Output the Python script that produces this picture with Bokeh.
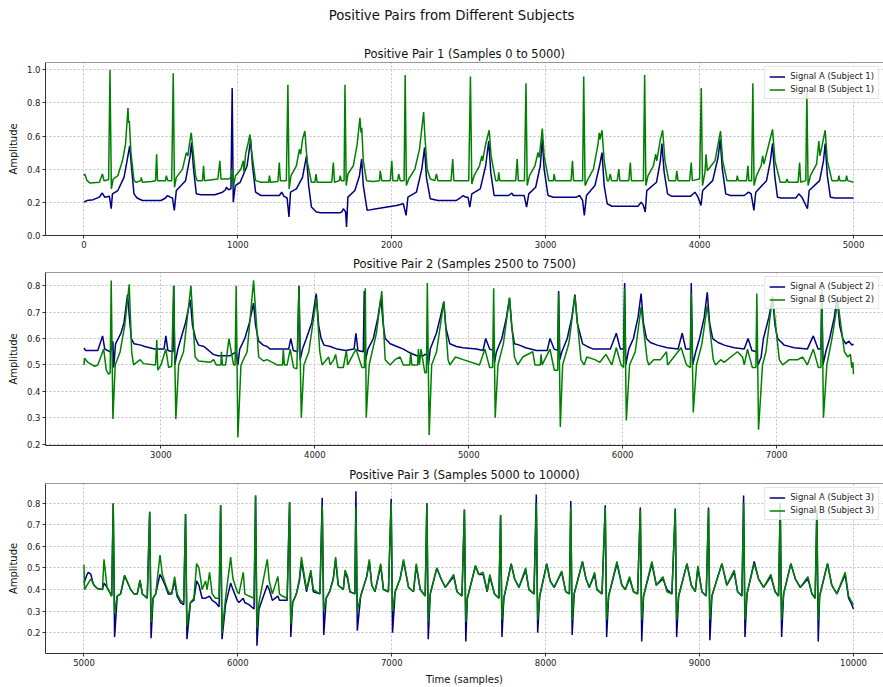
from bokeh.plotting import figure
from bokeh.layouts import column
from bokeh.models import Range1d, Legend, LegendItem, FixedTicker, Span, Div
from bokeh.embed import file_html
from bokeh.resources import INLINE

FONT = "DejaVu Sans"
NAVY = "#000080"
GREEN = "#008000"

main_title = "Positive Pairs from Different Subjects"
panel_titles = ["Positive Pair 1 (Samples 0 to 5000)",
                "Positive Pair 2 (Samples 2500 to 7500)",
                "Positive Pair 3 (Samples 5000 to 10000)"]
legend_a = ["Signal A (Subject 1)", "Signal A (Subject 2)", "Signal A (Subject 3)"]
legend_b = ["Signal B (Subject 1)", "Signal B (Subject 2)", "Signal B (Subject 3)"]

x_ticks_1 = [0, 1000, 2000, 3000, 4000, 5000]
x_ticks_2 = [3000, 4000, 5000, 6000, 7000]
x_ticks_3 = [5000, 6000, 7000, 8000, 9000, 10000]
y_ticks_1 = [0.0, 0.2, 0.4, 0.6, 0.8, 1.0]
y_ticks_2 = [0.2, 0.3, 0.4, 0.5, 0.6, 0.7, 0.8]
y_ticks_3 = [0.2, 0.3, 0.4, 0.5, 0.6, 0.7, 0.8]

# (sample, amplitude)
pair1_signal_a = [
    (0, 0.20), (20, 0.21), (60, 0.215), (100, 0.23), (119, 0.255), (135, 0.23), (165, 0.235), (177, 0.16),
    (185, 0.25), (220, 0.27), (260, 0.35), (280, 0.45), (297, 0.54), (310, 0.40), (325, 0.25), (345, 0.225),
    (380, 0.21), (500, 0.21), (530, 0.225), (543, 0.24), (560, 0.23), (575, 0.225), (587, 0.15), (600, 0.27),
    (660, 0.33), (690, 0.48), (699, 0.56), (712, 0.40), (730, 0.25), (760, 0.245), (850, 0.245), (900, 0.26),
    (920, 0.275), (925, 0.29), (940, 0.275), (955, 0.28), (963, 0.89), (970, 0.20), (983, 0.30), (1015, 0.32),
    (1060, 0.42), (1083, 0.58), (1095, 0.42), (1115, 0.26), (1150, 0.24), (1270, 0.24), (1285, 0.26),
    (1300, 0.235), (1320, 0.225), (1332, 0.11), (1342, 0.26), (1380, 0.28), (1420, 0.35), (1446, 0.48),
    (1460, 0.30), (1478, 0.17), (1510, 0.14), (1540, 0.135), (1660, 0.135), (1675, 0.14), (1685, 0.16),
    (1700, 0.14), (1706, 0.05), (1715, 0.23), (1760, 0.27), (1790, 0.36), (1804, 0.46), (1815, 0.30),
    (1840, 0.15), (1900, 0.16), (2030, 0.18), (2075, 0.19), (2093, 0.12), (2105, 0.23), (2160, 0.26),
    (2195, 0.40), (2213, 0.53), (2225, 0.35), (2250, 0.22), (2300, 0.21), (2420, 0.21), (2445, 0.225),
    (2463, 0.24), (2480, 0.23), (2495, 0.23), (2507, 0.17), (2520, 0.25), (2575, 0.28), (2610, 0.42),
    (2630, 0.57), (2643, 0.38), (2665, 0.24), (2760, 0.24), (2780, 0.255), (2790, 0.24), (2860, 0.24),
    (2876, 0.17), (2890, 0.25), (2935, 0.29), (2965, 0.42), (2978, 0.58), (2990, 0.40), (3015, 0.24),
    (3050, 0.23), (3200, 0.23), (3220, 0.24), (3240, 0.21), (3251, 0.12), (3265, 0.24), (3320, 0.30),
    (3350, 0.42), (3366, 0.50), (3380, 0.30), (3400, 0.19), (3430, 0.175), (3600, 0.175), (3620, 0.20),
    (3635, 0.18), (3647, 0.14), (3657, 0.27), (3720, 0.32), (3745, 0.45), (3755, 0.555), (3770, 0.38),
    (3792, 0.25), (3820, 0.235), (3940, 0.235), (3970, 0.26), (3990, 0.23), (4009, 0.18), (4020, 0.27),
    (4085, 0.33), (4120, 0.47), (4134, 0.58), (4148, 0.40), (4170, 0.25), (4200, 0.24), (4290, 0.24),
    (4318, 0.26), (4335, 0.25), (4353, 0.15), (4365, 0.26), (4435, 0.33), (4460, 0.45), (4474, 0.555),
    (4488, 0.36), (4506, 0.23), (4530, 0.225), (4625, 0.225), (4645, 0.25), (4665, 0.23), (4701, 0.16),
    (4712, 0.27), (4780, 0.33), (4805, 0.45), (4816, 0.555), (4830, 0.36), (4850, 0.23), (4880, 0.225),
    (5000, 0.225),
]

pair1_signal_b = [
    (0, 0.36), (5, 0.37), (20, 0.33), (40, 0.315), (100, 0.32), (120, 0.37), (130, 0.33), (160, 0.335),
    (169, 1.0), (178, 0.28), (190, 0.34), (220, 0.36), (250, 0.45), (270, 0.55), (286, 0.77), (290, 0.68),
    (295, 0.69), (305, 0.5), (325, 0.33), (340, 0.32), (370, 0.33), (372, 0.35), (380, 0.32), (440, 0.325),
    (465, 0.33), (472, 0.49), (478, 0.33), (530, 0.33), (535, 0.36), (545, 0.33), (570, 0.33), (580, 0.98),
    (588, 0.29), (600, 0.35), (640, 0.40), (665, 0.50), (675, 0.48), (685, 0.55), (697, 0.62), (710, 0.50),
    (725, 0.36), (736, 0.33), (770, 0.33), (777, 0.42), (783, 0.33), (870, 0.34), (883, 0.45), (890, 0.34),
    (940, 0.34), (955, 0.35), (963, 0.40), (970, 0.29), (985, 0.36), (1020, 0.40), (1035, 0.45),
    (1040, 0.38), (1050, 0.49), (1065, 0.55), (1078, 0.61), (1090, 0.50), (1115, 0.33), (1150, 0.32),
    (1200, 0.32), (1205, 0.36), (1212, 0.32), (1260, 0.325), (1269, 0.44), (1276, 0.33), (1315, 0.33),
    (1325, 0.91), (1333, 0.28), (1345, 0.36), (1380, 0.42), (1400, 0.52), (1408, 0.49), (1420, 0.58),
    (1435, 0.63), (1450, 0.45), (1478, 0.32), (1500, 0.32), (1508, 0.37), (1515, 0.32), (1610, 0.32),
    (1620, 0.44), (1628, 0.32), (1660, 0.33), (1665, 0.36), (1672, 0.33), (1690, 0.33), (1696, 0.91),
    (1704, 0.30), (1715, 0.37), (1750, 0.42), (1775, 0.55), (1793, 0.71), (1800, 0.62), (1805, 0.65),
    (1815, 0.45), (1836, 0.33), (1880, 0.325), (1920, 0.33), (1925, 0.39), (1935, 0.33), (1990, 0.33),
    (2000, 0.45), (2007, 0.33), (2038, 0.33), (2045, 0.37), (2055, 0.33), (2080, 0.33), (2087, 0.97),
    (2095, 0.30), (2110, 0.34), (2150, 0.40), (2180, 0.52), (2207, 0.745), (2215, 0.60), (2230, 0.40),
    (2250, 0.34), (2280, 0.33), (2290, 0.37), (2300, 0.33), (2385, 0.33), (2396, 0.46), (2403, 0.33),
    (2500, 0.33), (2511, 0.96), (2520, 0.31), (2535, 0.36), (2570, 0.42), (2585, 0.48), (2590, 0.45),
    (2610, 0.55), (2633, 0.635), (2645, 0.48), (2675, 0.33), (2690, 0.33), (2695, 0.38), (2702, 0.33),
    (2805, 0.33), (2815, 0.46), (2822, 0.33), (2862, 0.33), (2872, 0.92), (2880, 0.30), (2895, 0.36),
    (2930, 0.42), (2950, 0.50), (2958, 0.47), (2978, 0.645), (2990, 0.48), (3020, 0.33), (3050, 0.33),
    (3055, 0.37), (3062, 0.33), (3165, 0.33), (3174, 0.45), (3181, 0.33), (3240, 0.33), (3247, 0.96),
    (3256, 0.30), (3270, 0.33), (3310, 0.40), (3340, 0.55), (3348, 0.62), (3353, 0.58), (3366, 0.635),
    (3380, 0.45), (3400, 0.33), (3410, 0.33), (3420, 0.37), (3428, 0.33), (3465, 0.33), (3475, 0.40),
    (3482, 0.33), (3540, 0.33), (3550, 0.44), (3557, 0.33), (3635, 0.33), (3643, 0.97), (3651, 0.30),
    (3665, 0.36), (3700, 0.42), (3715, 0.49), (3722, 0.45), (3745, 0.58), (3760, 0.635), (3775, 0.45),
    (3800, 0.33), (3845, 0.33), (3852, 0.39), (3860, 0.33), (3935, 0.33), (3946, 0.44), (3953, 0.33),
    (4000, 0.34), (4011, 0.89), (4019, 0.30), (4035, 0.38), (4042, 0.49), (4050, 0.39), (4100, 0.45),
    (4120, 0.55), (4136, 0.63), (4150, 0.45), (4178, 0.33), (4240, 0.33), (4245, 0.36), (4252, 0.33),
    (4305, 0.33), (4314, 0.42), (4320, 0.33), (4338, 0.33), (4346, 0.92), (4354, 0.30), (4370, 0.36),
    (4400, 0.42), (4410, 0.48), (4418, 0.43), (4450, 0.55), (4474, 0.64), (4490, 0.45), (4524, 0.32),
    (4560, 0.32), (4568, 0.34), (4575, 0.32), (4640, 0.32), (4650, 0.44), (4657, 0.32), (4690, 0.33),
    (4697, 0.87), (4705, 0.30), (4720, 0.36), (4760, 0.43), (4775, 0.57), (4782, 0.48), (4800, 0.56),
    (4816, 0.635), (4830, 0.45), (4860, 0.33), (4900, 0.33), (4905, 0.36), (4912, 0.33), (4950, 0.33),
    (4955, 0.36), (4962, 0.33), (5000, 0.32),
]

pair2_signal_a = [
    (2500, 0.565), (2510, 0.555), (2590, 0.555), (2621, 0.61), (2635, 0.56), (2670, 0.55), (2680, 0.56),
    (2688, 0.59), (2693, 0.49), (2705, 0.58), (2740, 0.62), (2760, 0.66), (2783, 0.766), (2798, 0.66),
    (2808, 0.60), (2825, 0.58), (2870, 0.575), (2895, 0.57), (2960, 0.56), (3020, 0.56), (3032, 0.61),
    (3045, 0.555), (3078, 0.55), (3084, 0.80), (3090, 0.50), (3110, 0.56), (3130, 0.60), (3160, 0.66),
    (3191, 0.747), (3205, 0.65), (3225, 0.60), (3245, 0.575), (3280, 0.57), (3300, 0.56), (3320, 0.55),
    (3340, 0.54), (3370, 0.535), (3450, 0.535), (3475, 0.545), (3490, 0.545), (3500, 0.50), (3512, 0.56),
    (3545, 0.60), (3575, 0.66), (3602, 0.734), (3615, 0.65), (3635, 0.59), (3665, 0.575), (3690, 0.57),
    (3710, 0.56), (3830, 0.56), (3844, 0.60), (3860, 0.555), (3888, 0.55), (3897, 0.80), (3905, 0.52),
    (3920, 0.56), (3945, 0.60), (3980, 0.66), (4009, 0.77), (4025, 0.65), (4041, 0.60), (4060, 0.575),
    (4100, 0.57), (4145, 0.56), (4200, 0.555), (4255, 0.56), (4267, 0.62), (4280, 0.555), (4315, 0.55),
    (4321, 0.78), (4330, 0.52), (4345, 0.56), (4380, 0.60), (4410, 0.68), (4429, 0.753), (4445, 0.65),
    (4457, 0.60), (4490, 0.58), (4533, 0.57), (4576, 0.56), (4620, 0.545), (4662, 0.535), (4705, 0.535),
    (4715, 0.54), (4731, 0.54), (4738, 0.50), (4750, 0.56), (4790, 0.62), (4815, 0.68), (4838, 0.74),
    (4852, 0.64), (4877, 0.58), (4920, 0.57), (4963, 0.565), (5050, 0.56), (5093, 0.555), (5110, 0.60),
    (5136, 0.56), (5160, 0.555), (5168, 0.51), (5180, 0.55), (5215, 0.60), (5245, 0.68), (5265, 0.753),
    (5280, 0.64), (5297, 0.58), (5330, 0.575), (5370, 0.565), (5440, 0.555), (5510, 0.555), (5528, 0.60),
    (5555, 0.56), (5578, 0.555), (5584, 0.78), (5592, 0.52), (5605, 0.55), (5640, 0.60), (5670, 0.68),
    (5690, 0.766), (5705, 0.66), (5740, 0.58), (5770, 0.57), (5810, 0.56), (5920, 0.56), (5959, 0.62),
    (5985, 0.56), (6006, 0.56), (6013, 0.81), (6020, 0.50), (6040, 0.56), (6070, 0.60), (6100, 0.68),
    (6120, 0.77), (6135, 0.66), (6155, 0.60), (6180, 0.585), (6225, 0.575), (6290, 0.565), (6360, 0.56),
    (6387, 0.62), (6410, 0.56), (6440, 0.56), (6446, 0.81), (6455, 0.50), (6475, 0.55), (6500, 0.60),
    (6530, 0.68), (6550, 0.775), (6565, 0.66), (6585, 0.60), (6620, 0.585), (6660, 0.575), (6725, 0.565),
    (6790, 0.56), (6815, 0.60), (6840, 0.555), (6870, 0.55), (6880, 0.50), (6900, 0.53), (6915, 0.60),
    (6950, 0.68), (6974, 0.753), (6990, 0.65), (7007, 0.60), (7050, 0.575), (7115, 0.565), (7200, 0.56),
    (7239, 0.61), (7270, 0.56), (7288, 0.56), (7294, 0.77), (7302, 0.50), (7320, 0.55), (7345, 0.60),
    (7375, 0.68), (7394, 0.76), (7410, 0.65), (7430, 0.60), (7450, 0.58), (7470, 0.59), (7490, 0.575),
    (7500, 0.58),
]

pair2_signal_b = [
    (2500, 0.50), (2503, 0.525), (2525, 0.51), (2570, 0.495), (2590, 0.50), (2628, 0.56), (2645, 0.48),
    (2660, 0.465), (2670, 0.47), (2677, 0.82), (2688, 0.295), (2703, 0.50), (2735, 0.55), (2765, 0.65),
    (2794, 0.805), (2810, 0.55), (2822, 0.50), (2865, 0.52), (2887, 0.505), (2965, 0.50), (2973, 0.595),
    (2980, 0.48), (3000, 0.50), (3032, 0.56), (3050, 0.49), (3070, 0.495), (3082, 0.80), (3097, 0.295),
    (3115, 0.50), (3147, 0.55), (3195, 0.80), (3222, 0.53), (3245, 0.515), (3320, 0.51), (3342, 0.52),
    (3360, 0.50), (3390, 0.50), (3393, 0.55), (3400, 0.50), (3420, 0.50), (3442, 0.60), (3472, 0.50),
    (3482, 0.50), (3489, 0.80), (3500, 0.225), (3520, 0.50), (3560, 0.55), (3602, 0.82), (3635, 0.53),
    (3667, 0.515), (3690, 0.52), (3755, 0.50), (3790, 0.50), (3795, 0.56), (3802, 0.50), (3820, 0.50),
    (3840, 0.56), (3862, 0.49), (3883, 0.485), (3897, 0.80), (3912, 0.30), (3929, 0.50), (3961, 0.55),
    (4011, 0.755), (4032, 0.55), (4047, 0.50), (4090, 0.53), (4100, 0.50), (4123, 0.52), (4135, 0.54),
    (4150, 0.49), (4185, 0.49), (4205, 0.555), (4213, 0.50), (4267, 0.56), (4306, 0.49), (4322, 0.49),
    (4328, 0.79), (4334, 0.30), (4353, 0.50), (4400, 0.62), (4435, 0.78), (4457, 0.52), (4489, 0.50),
    (4521, 0.52), (4554, 0.53), (4575, 0.50), (4617, 0.50), (4623, 0.55), (4630, 0.50), (4668, 0.50),
    (4673, 0.56), (4680, 0.50), (4690, 0.56), (4715, 0.47), (4725, 0.47), (4731, 0.81), (4743, 0.235),
    (4759, 0.50), (4791, 0.55), (4838, 0.74), (4866, 0.52), (4877, 0.50), (4914, 0.53), (4964, 0.52),
    (5070, 0.50), (5105, 0.56), (5136, 0.49), (5155, 0.49), (5162, 0.79), (5172, 0.30), (5190, 0.50),
    (5225, 0.58), (5265, 0.755), (5297, 0.53), (5319, 0.50), (5351, 0.53), (5416, 0.55), (5430, 0.50),
    (5465, 0.50), (5470, 0.54), (5477, 0.50), (5528, 0.56), (5556, 0.48), (5578, 0.48), (5584, 0.77),
    (5595, 0.265), (5610, 0.50), (5650, 0.58), (5690, 0.76), (5729, 0.52), (5750, 0.50), (5767, 0.53),
    (5820, 0.52), (5852, 0.51), (5891, 0.54), (5930, 0.50), (5959, 0.565), (5990, 0.50), (6006, 0.49),
    (6013, 0.79), (6024, 0.29), (6045, 0.50), (6082, 0.55), (6120, 0.72), (6159, 0.52), (6170, 0.50),
    (6202, 0.52), (6246, 0.52), (6285, 0.55), (6292, 0.50), (6380, 0.565), (6415, 0.50), (6440, 0.49),
    (6446, 0.77), (6459, 0.32), (6480, 0.50), (6515, 0.58), (6550, 0.725), (6589, 0.52), (6604, 0.50),
    (6637, 0.52), (6659, 0.51), (6746, 0.55), (6779, 0.53), (6790, 0.50), (6811, 0.56), (6843, 0.49),
    (6866, 0.49), (6872, 0.77), (6883, 0.255), (6909, 0.50), (6931, 0.55), (6974, 0.76), (7018, 0.52),
    (7040, 0.50), (7083, 0.52), (7138, 0.52), (7170, 0.53), (7200, 0.50), (7239, 0.56), (7272, 0.49),
    (7288, 0.49), (7294, 0.80), (7305, 0.30), (7327, 0.50), (7360, 0.60), (7398, 0.74), (7441, 0.55),
    (7463, 0.53), (7480, 0.54), (7489, 0.49), (7496, 0.51), (7500, 0.465),
]

pair3_signal_a = [
    (5000, 0.43), (5020, 0.47), (5028, 0.48), (5045, 0.47), (5055, 0.44), (5065, 0.42), (5087, 0.405),
    (5120, 0.40), (5130, 0.43), (5150, 0.41), (5165, 0.39), (5180, 0.37), (5190, 0.80), (5199, 0.18),
    (5216, 0.37), (5238, 0.38), (5264, 0.465), (5303, 0.40), (5325, 0.38), (5346, 0.38), (5364, 0.44),
    (5379, 0.38), (5411, 0.36), (5427, 0.76), (5436, 0.175), (5449, 0.36), (5466, 0.38), (5494, 0.47),
    (5509, 0.45), (5527, 0.42), (5548, 0.38), (5570, 0.38), (5589, 0.44), (5605, 0.37), (5627, 0.34),
    (5648, 0.33), (5660, 0.75), (5669, 0.17), (5692, 0.34), (5714, 0.35), (5732, 0.44), (5747, 0.42),
    (5768, 0.36), (5790, 0.36), (5816, 0.37), (5833, 0.35), (5855, 0.34), (5878, 0.32), (5888, 0.79),
    (5897, 0.17), (5920, 0.33), (5953, 0.43), (5968, 0.40), (5996, 0.35), (6007, 0.34), (6035, 0.36),
    (6045, 0.34), (6072, 0.33), (6105, 0.31), (6115, 0.835), (6124, 0.14), (6137, 0.31), (6191, 0.42),
    (6204, 0.40), (6224, 0.35), (6260, 0.37), (6270, 0.35), (6288, 0.35), (6320, 0.35), (6336, 0.805),
    (6344, 0.18), (6356, 0.34), (6380, 0.38), (6400, 0.44), (6413, 0.53), (6446, 0.39), (6474, 0.48),
    (6490, 0.39), (6533, 0.38), (6548, 0.825), (6558, 0.19), (6574, 0.36), (6596, 0.39), (6620, 0.45),
    (6635, 0.54), (6652, 0.42), (6685, 0.40), (6696, 0.48), (6713, 0.45), (6728, 0.39), (6760, 0.38),
    (6767, 0.855), (6776, 0.21), (6798, 0.37), (6837, 0.46), (6854, 0.53), (6870, 0.42), (6891, 0.39),
    (6928, 0.51), (6946, 0.40), (6978, 0.39), (6996, 0.82), (7005, 0.20), (7022, 0.39), (7054, 0.45),
    (7076, 0.53), (7109, 0.41), (7141, 0.39), (7159, 0.51), (7185, 0.40), (7217, 0.37), (7228, 0.80),
    (7237, 0.17), (7250, 0.38), (7293, 0.50), (7320, 0.45), (7348, 0.41), (7402, 0.46), (7424, 0.39),
    (7456, 0.37), (7472, 0.77), (7481, 0.16), (7491, 0.36), (7544, 0.51), (7565, 0.47), (7594, 0.47),
    (7620, 0.39), (7637, 0.46), (7667, 0.38), (7696, 0.36), (7707, 0.745), (7716, 0.18), (7728, 0.36),
    (7776, 0.52), (7798, 0.45), (7826, 0.41), (7870, 0.49), (7891, 0.40), (7924, 0.38), (7939, 0.84),
    (7948, 0.20), (7961, 0.37), (8007, 0.52), (8029, 0.44), (8055, 0.41), (8104, 0.48), (8130, 0.39),
    (8154, 0.38), (8163, 0.81), (8172, 0.19), (8185, 0.38), (8239, 0.53), (8262, 0.45), (8283, 0.41),
    (8318, 0.47), (8333, 0.40), (8366, 0.38), (8387, 0.79), (8396, 0.18), (8409, 0.37), (8463, 0.52),
    (8495, 0.42), (8517, 0.40), (8545, 0.45), (8571, 0.39), (8597, 0.38), (8615, 0.78), (8624, 0.16),
    (8636, 0.37), (8690, 0.52), (8719, 0.42), (8762, 0.45), (8788, 0.40), (8820, 0.38), (8842, 0.775),
    (8851, 0.18), (8864, 0.37), (8918, 0.52), (8946, 0.42), (8972, 0.39), (8989, 0.50), (9015, 0.39),
    (9043, 0.37), (9058, 0.78), (9067, 0.165), (9080, 0.37), (9145, 0.52), (9177, 0.42), (9225, 0.48),
    (9247, 0.39), (9275, 0.37), (9286, 0.835), (9295, 0.18), (9308, 0.38), (9355, 0.53), (9383, 0.45),
    (9416, 0.41), (9463, 0.46), (9491, 0.39), (9513, 0.37), (9524, 0.79), (9533, 0.18), (9546, 0.38),
    (9593, 0.52), (9622, 0.45), (9654, 0.41), (9704, 0.45), (9730, 0.38), (9751, 0.36), (9762, 0.77),
    (9771, 0.16), (9780, 0.37), (9831, 0.52), (9859, 0.42), (9892, 0.38), (9946, 0.47), (9968, 0.36),
    (9983, 0.34), (10000, 0.31),
]

pair3_signal_b = [
    (5000, 0.515), (5004, 0.40), (5020, 0.42), (5045, 0.45), (5065, 0.42), (5087, 0.405), (5120, 0.40),
    (5130, 0.54), (5150, 0.41), (5165, 0.39), (5180, 0.37), (5190, 0.795), (5199, 0.29), (5216, 0.37),
    (5238, 0.38), (5264, 0.465), (5303, 0.40), (5325, 0.38), (5346, 0.38), (5364, 0.445), (5379, 0.38),
    (5411, 0.36), (5427, 0.76), (5436, 0.25), (5449, 0.36), (5466, 0.38), (5494, 0.56), (5509, 0.47),
    (5527, 0.43), (5548, 0.39), (5570, 0.38), (5589, 0.46), (5605, 0.38), (5627, 0.35), (5648, 0.34),
    (5660, 0.75), (5669, 0.23), (5692, 0.34), (5714, 0.36), (5732, 0.52), (5747, 0.50), (5768, 0.40),
    (5790, 0.44), (5800, 0.40), (5816, 0.48), (5833, 0.38), (5855, 0.36), (5878, 0.36), (5888, 0.79),
    (5897, 0.20), (5920, 0.36), (5953, 0.55), (5968, 0.45), (5996, 0.39), (6007, 0.38), (6035, 0.48),
    (6045, 0.38), (6072, 0.37), (6105, 0.36), (6115, 0.835), (6124, 0.22), (6137, 0.34), (6191, 0.54),
    (6204, 0.44), (6224, 0.38), (6260, 0.46), (6270, 0.38), (6288, 0.37), (6320, 0.36), (6336, 0.805),
    (6344, 0.24), (6356, 0.34), (6380, 0.38), (6400, 0.45), (6413, 0.55), (6446, 0.40), (6474, 0.49),
    (6490, 0.40), (6533, 0.38), (6548, 0.79), (6558, 0.30), (6574, 0.36), (6596, 0.39), (6620, 0.45),
    (6635, 0.55), (6652, 0.42), (6685, 0.40), (6696, 0.49), (6713, 0.46), (6728, 0.39), (6760, 0.38),
    (6767, 0.78), (6776, 0.30), (6798, 0.37), (6837, 0.46), (6854, 0.54), (6870, 0.42), (6891, 0.39),
    (6928, 0.52), (6946, 0.40), (6978, 0.39), (6996, 0.80), (7005, 0.30), (7022, 0.39), (7054, 0.45),
    (7076, 0.54), (7109, 0.41), (7141, 0.39), (7159, 0.52), (7185, 0.40), (7217, 0.37), (7228, 0.80),
    (7237, 0.25), (7250, 0.38), (7293, 0.50), (7320, 0.45), (7348, 0.41), (7402, 0.47), (7424, 0.39),
    (7456, 0.37), (7472, 0.77), (7481, 0.25), (7491, 0.36), (7544, 0.51), (7565, 0.47), (7594, 0.48),
    (7620, 0.39), (7637, 0.47), (7667, 0.38), (7696, 0.36), (7707, 0.745), (7716, 0.26), (7728, 0.36),
    (7776, 0.516), (7798, 0.45), (7826, 0.41), (7870, 0.50), (7891, 0.40), (7924, 0.38), (7939, 0.80),
    (7948, 0.26), (7961, 0.37), (8007, 0.516), (8029, 0.44), (8055, 0.41), (8104, 0.486), (8130, 0.39),
    (8154, 0.38), (8163, 0.78), (8172, 0.26), (8185, 0.38), (8239, 0.527), (8262, 0.45), (8283, 0.41),
    (8318, 0.48), (8333, 0.40), (8366, 0.38), (8387, 0.78), (8396, 0.26), (8409, 0.37), (8463, 0.53),
    (8495, 0.42), (8517, 0.40), (8545, 0.46), (8571, 0.39), (8597, 0.38), (8615, 0.77), (8624, 0.26),
    (8636, 0.37), (8690, 0.53), (8719, 0.42), (8762, 0.46), (8788, 0.39), (8820, 0.38), (8842, 0.77),
    (8851, 0.26), (8864, 0.37), (8918, 0.52), (8946, 0.42), (8972, 0.39), (8989, 0.51), (9015, 0.39),
    (9043, 0.37), (9058, 0.77), (9067, 0.26), (9080, 0.37), (9145, 0.52), (9177, 0.42), (9225, 0.49),
    (9247, 0.39), (9275, 0.37), (9286, 0.80), (9295, 0.26), (9308, 0.38), (9355, 0.52), (9383, 0.45),
    (9416, 0.41), (9463, 0.47), (9491, 0.39), (9513, 0.37), (9524, 0.80), (9533, 0.26), (9546, 0.38),
    (9593, 0.52), (9622, 0.45), (9654, 0.41), (9704, 0.46), (9730, 0.38), (9751, 0.36), (9762, 0.77),
    (9771, 0.26), (9780, 0.37), (9831, 0.52), (9859, 0.42), (9892, 0.38), (9946, 0.48), (9968, 0.37),
    (9983, 0.35), (10000, 0.33),
]


def split(pairs):
    return [q[0] for q in pairs], [q[1] for q in pairs]


def make_panel(idx, sig_a, sig_b, x_rng, y_rng, x_ticks, y_ticks, height, top, bottom, xlabel=None):
    p = figure(width=883, height=height, x_range=Range1d(*x_rng), y_range=Range1d(*y_rng),
               output_backend="svg", toolbar_location=None,
               min_border_left=45, min_border_right=0, min_border_top=top, min_border_bottom=bottom,
               background_fill_color="white", border_fill_color="white")
    p.outline_line_color = None
    p.title.text = panel_titles[idx]
    p.title.align = "center"
    p.title.text_font = FONT
    p.title.text_font_size = "11.5px"
    p.title.text_font_style = "normal"
    p.title.text_color = "#111111"
    p.title.standoff = 3

    for ax in (p.xaxis[0], p.yaxis[0]):
        ax.axis_line_color = "#333333"
        ax.major_tick_line_color = "#333333"
        ax.major_tick_out = 3
        ax.major_tick_in = 0
        ax.minor_tick_line_color = None
        ax.major_label_text_font = FONT
        ax.major_label_text_font_size = "8.5px"
        ax.major_label_text_color = "#222222"
        ax.major_label_standoff = 2
        ax.axis_label_text_font = FONT
        ax.axis_label_text_font_size = "10px"
        ax.axis_label_text_font_style = "normal"
        ax.axis_label_text_color = "#111111"
        ax.axis_label_standoff = 5

    p.xaxis.ticker = FixedTicker(ticks=x_ticks)
    p.yaxis.ticker = FixedTicker(ticks=y_ticks)
    p.yaxis.major_label_overrides = {v: f"{v:.1f}" for v in y_ticks}
    p.yaxis.axis_label = "Amplitude"
    if xlabel:
        p.xaxis.axis_label = xlabel

    p.grid.grid_line_color = "#b4b4b4"
    p.grid.grid_line_dash = "2 2"
    p.grid.grid_line_width = 0.8

    p.add_layout(Span(location=y_rng[1], dimension="width", line_color="#333333", line_width=1))

    xa, ya = split(sig_a)
    xb, yb = split(sig_b)
    ra = p.line(xa, ya, line_color=NAVY, line_width=1.5)
    rb = p.line(xb, yb, line_color=GREEN, line_width=1.5)

    legend = Legend(items=[LegendItem(label=legend_a[idx], renderers=[ra]),
                           LegendItem(label=legend_b[idx], renderers=[rb])],
                    location="top_right",
                    label_text_font=FONT, label_text_font_size="8.5px", label_text_color="#222222",
                    glyph_width=16, glyph_height=9, label_height=9, label_standoff=5,
                    spacing=3, padding=4, margin=4,
                    border_line_color="#cccccc", border_line_width=1,
                    background_fill_color="white", background_fill_alpha=0.8)
    p.add_layout(legend)
    return p


header = Div(text=main_title, width=883, height=35, margin=0,
             styles={"font-family": FONT, "font-size": "13.3px", "color": "#111111",
                     "text-align": "center", "line-height": "16px", "padding-top": "8px",
                     "padding-left": "20px", "box-sizing": "border-box", "width": "883px",
                     "background-color": "white"})

p1 = make_panel(0, pair1_signal_a, pair1_signal_b, (-250, 5195), (-0.002, 1.045),
                x_ticks_1, y_ticks_1, 215, 27, 15)
p2 = make_panel(1, pair2_signal_a, pair2_signal_b, (2250, 7695), (0.195, 0.85),
                x_ticks_2, y_ticks_2, 210, 22, 15)
p3 = make_panel(2, pair3_signal_a, pair3_signal_b, (4750, 10195), (0.104, 0.891),
                x_ticks_3, y_ticks_3, 227, 23, 31, xlabel="Time (samples)")

layout = column(header, p1, p2, p3, spacing=0)
open("out.html", "w").write(file_html(layout, INLINE))
